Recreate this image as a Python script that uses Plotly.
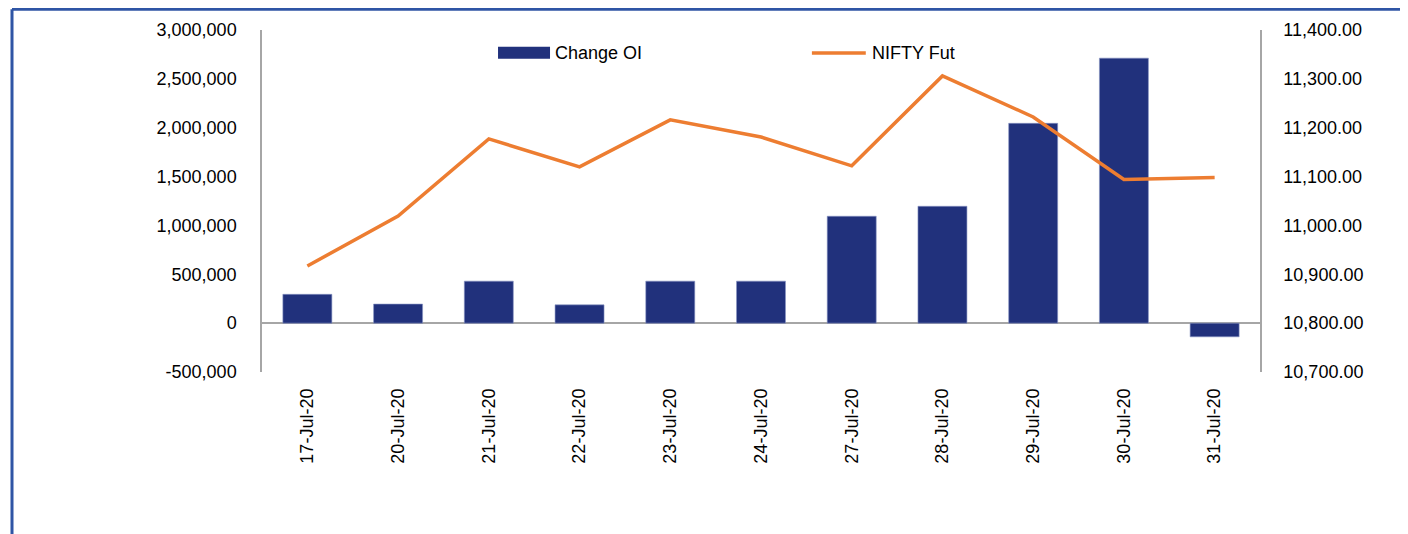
import plotly.graph_objects as go

dates = ["17-Jul-20", "20-Jul-20", "21-Jul-20", "22-Jul-20", "23-Jul-20", "24-Jul-20",
         "27-Jul-20", "28-Jul-20", "29-Jul-20", "30-Jul-20", "31-Jul-20"]
change_oi = [295000, 195000, 430000, 187000, 430000, 430000,
             1094000, 1196000, 2045000, 2712000, -140000]
nifty_fut = [10917, 11019, 11177, 11120, 11216, 11181,
             11122, 11306, 11222, 11094, 11098]

oi_ticks = [-500000, 0, 500000, 1000000, 1500000, 2000000, 2500000, 3000000]
oi_labels = ["-500,000", "0", "500,000", "1,000,000", "1,500,000", "2,000,000", "2,500,000", "3,000,000"]

font = "Liberation Sans, Arial, sans-serif"
bar_color = "#21317C"
line_color = "#ED7D31"
axis_color = "#A6A6A6"
frame_color = "#2F55A5"

fig = go.Figure()

fig.add_trace(go.Bar(x=dates, y=change_oi, name="Change OI",
                     marker=dict(color=bar_color, line=dict(color="#8A95C4", width=0.6)),
                     yaxis="y"))

fig.add_trace(go.Scatter(x=dates, y=nifty_fut, name="NIFTY Fut", mode="lines",
                         line=dict(color=line_color, width=3.5), yaxis="y2"))

# page body has an 8px margin, so the figure is sized/offset to compensate
fig.update_layout(
    width=1400, height=526,
    margin=dict(l=254, r=148, t=22, b=162),
    paper_bgcolor="white", plot_bgcolor="white",
    font=dict(family=font, size=18, color="#000000"),
    showlegend=False,
    bargap=0.46,
    xaxis=dict(type="category", tickangle=-90, showgrid=False, showline=False,
               ticks="", ticklabelstandoff=12),
    yaxis=dict(range=[-500000, 3000000], tickvals=oi_ticks, ticktext=oi_labels,
               showgrid=False, showline=True, linecolor=axis_color, linewidth=1.5,
               zeroline=True, zerolinecolor=axis_color, zerolinewidth=1.5,
               ticks="", ticklabelstandoff=20),
    yaxis2=dict(range=[10700, 11400], dtick=100, tickformat=",.2f", overlaying="y",
                side="right", showgrid=False, showline=True, linecolor=axis_color,
                linewidth=1.5, zeroline=False, ticks="", ticklabelstandoff=18),
)

# outer frame: only its left and top edges are in view
fig.add_shape(type="line", xref="paper", yref="paper", x0=-0.2505, x1=1.3, y0=1.061, y1=1.061,
              line=dict(color=frame_color, width=3), layer="above")
fig.add_shape(type="line", xref="paper", yref="paper", x0=-0.2505, x1=-0.2505, y0=-1.0, y1=1.061,
              line=dict(color=frame_color, width=3), layer="above")

# custom legend
fig.add_shape(type="rect", xref="paper", yref="paper", x0=0.2365, x1=0.2886, y0=0.916, y1=0.951,
              line=dict(width=0), fillcolor=bar_color)
fig.add_annotation(text="Change OI", xref="paper", yref="paper", x=0.2916, y=0.933,
                   xanchor="left", yanchor="middle", showarrow=False, font=dict(size=18))
fig.add_shape(type="line", xref="paper", yref="paper", x0=0.551, x1=0.605, y0=0.933, y1=0.933,
              line=dict(color=line_color, width=3.5))
fig.add_annotation(text="NIFTY Fut", xref="paper", yref="paper", x=0.609, y=0.933,
                   xanchor="left", yanchor="middle", showarrow=False, font=dict(size=18))

fig.write_html("out.html", config={"displayModeBar": False})
